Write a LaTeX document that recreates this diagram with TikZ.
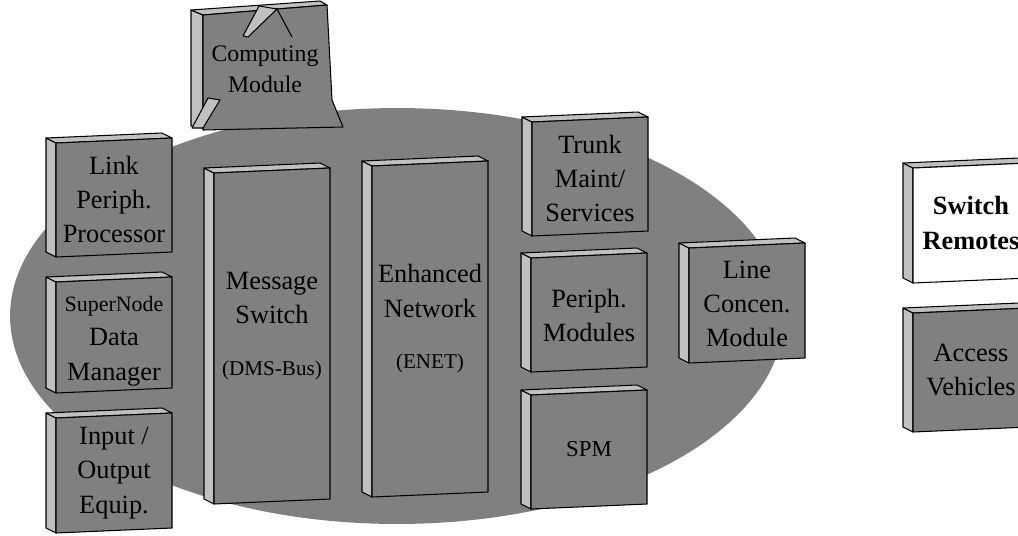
\documentclass[tikz,border=0pt]{standalone}
\usepackage{fontspec}
\setmainfont{Liberation Serif}
\usetikzlibrary{calc}
\definecolor{facegray}{HTML}{808080}
\definecolor{edgegray}{HTML}{C0C0C0}
\tikzset{%
  slabface/.style={fill=facegray, draw=black, line width=0.6pt, line join=round},
  whiteface/.style={fill=white, draw=black, line width=0.6pt, line join=round},
  slabedge/.style={fill=edgegray, draw=black, line width=0.6pt, line join=round},
  slabtext/.style={align=center, font=\fontsize{15}{19.5}\selectfont, inner sep=0pt}
}
% #1 face style, #2 name, #3 left, #4 top, #5 height, #6 text shift, #7 text
\newcommand{\drawslab}[7][slabface]{%
  \coordinate (#2-tl) at (#3,#4);
  \coordinate (#2-tr) at (#3+116,#4-5);
  \coordinate (#2-br) at (#3+116,#4+#5-5);
  \coordinate (#2-bl) at (#3,#4+#5);
  \draw [slabedge] (#2-tl) -- ++(-10,-5) -- ++(0,#5) -- (#2-bl) -- cycle;
  \draw [slabedge] (#2-tl) -- ++(-10,-5) -- ++(116,-5) -- (#2-tr) -- cycle;
  \draw [#1] (#2-tl) -- (#2-tr) -- (#2-br) -- (#2-bl) -- cycle;
  \node [slabtext] (#2) at ($(#2-tl)!0.5!(#2-br)+(0,#6)$) {#7};
}

\begin{document}
\begin{tikzpicture}[x=0.02cm, y=-0.02cm]
\useasboundingbox (0,0) rectangle (1018,535);

% the switch
\fill [facegray] (397,316) ellipse [x radius=7.74cm, y radius=4.16cm];

% computing module
\draw [slabedge] (191,10) -- (203,15) -- (203,128) -- (191,126) -- cycle;
\draw [slabedge] (191,10) -- (320,1) -- (327,5) -- (203,15) -- cycle;
\draw [slabface] (203,15) -- (327,5) -- (332,100) -- (343,127) -- (203,130) -- cycle;
\draw [slabedge] (208,98) -- (220,100) -- (203,128) -- (192,128) -- cycle;
\draw [slabedge] (259,6) -- (277,9) -- (248,37) -- (243,36) -- cycle;
\draw [line width=0.6pt] (277,9) -- (292,37);
\node [slabtext, font=\fontsize{13.5}{17.5}\selectfont] (cm) at (265,69) {Computing\\Module};

% left column
\drawslab{lpp}{56}{143}{114}{2}{Link\\Periph.\\Processor}
\drawslab{sdm}{56}{282}{111}{6}{{\fontsize{12.5}{14}\selectfont SuperNode}\\Data\\Manager}
\drawslab{ioe}{56}{418}{115}{0}{Input /\\Output\\Equip.}

% bus and network
\drawslab{dms}{214}{173}{331}{-10}{Message\\Switch\\[10pt]{\fontsize{12}{14}\selectfont (DMS-Bus)}}
\drawslab{enet}{372}{166}{331}{-10}{Enhanced\\Network\\[10pt]{\fontsize{12}{14}\selectfont (ENET)}}

% peripherals
\drawslab{tms}{532}{122}{114}{2}{Trunk\\Maint/\\Services}
\drawslab{pm}{531}{258}{114}{3}{Periph.\\Modules}
\drawslab{spm}{531}{395}{114}{0}{{\fontsize{13}{15}\selectfont SPM}}
\drawslab{lcm}{689}{248}{115}{1}{Line\\Concen.\\Module}

% remotes
\drawslab[whiteface]{sr}{913}{168}{115}{0}{\bfseries Switch\\\bfseries Remotes}
\drawslab{av}{913}{313}{119}{0}{Access\\Vehicles}

\end{tikzpicture}
\end{document}
